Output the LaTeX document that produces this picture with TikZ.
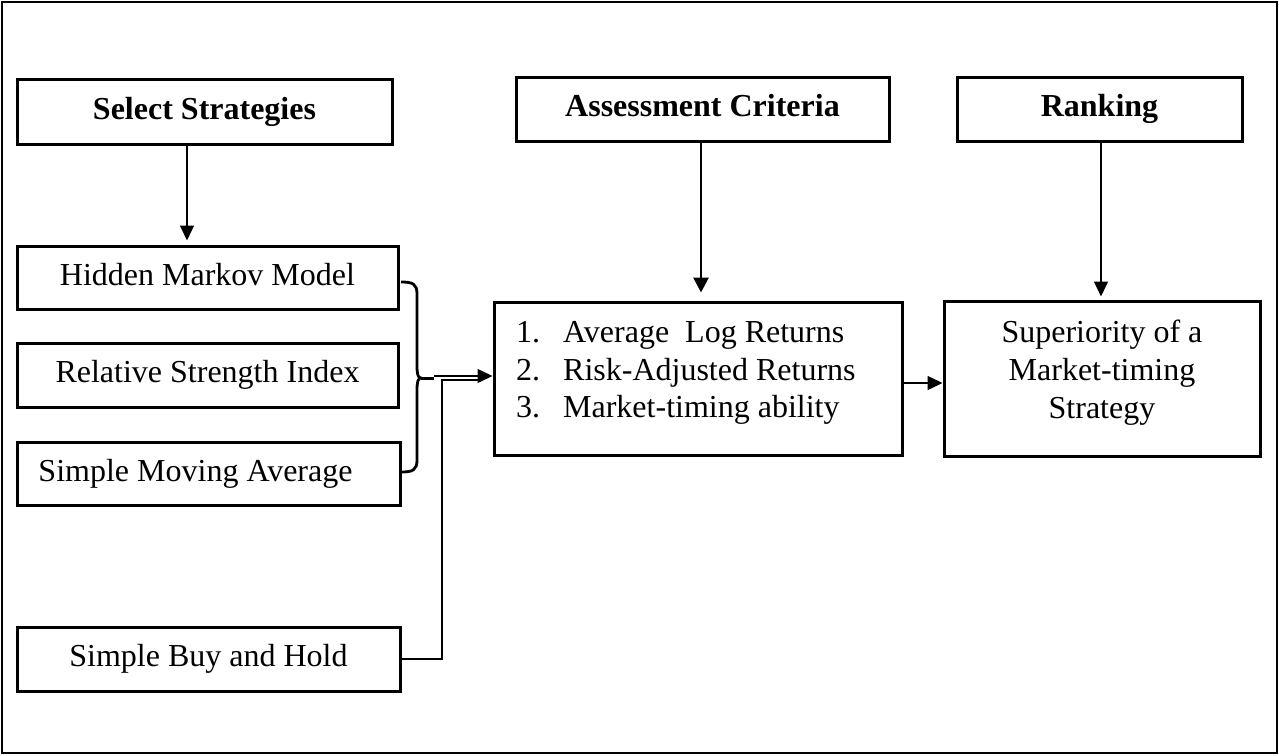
\documentclass[tikz,border=0pt]{standalone}
\usepackage{fontspec}
\setmainfont{Liberation Serif}
\usetikzlibrary{arrows.meta}
\begin{document}
\begin{tikzpicture}[x=1pt,y=-1pt,
  box/.style={draw, line width=3pt, inner sep=0pt, text height=22pt, text depth=7pt, font=\fontsize{32}{38}\selectfont},
  hbox/.style={box, font=\fontsize{32}{38}\selectfont\bfseries},
  txt/.style={inner sep=0pt, font=\fontsize{32}{38}\selectfont},
  conn/.style={line width=1.4pt, -{Triangle[length=15pt,width=14pt]}},
  thickconn/.style={line width=2.8pt, -{Triangle[length=15pt,width=15pt]}},
  plainline/.style={line width=1.4pt},
  bracestyle/.style={line width=2.8pt}
]
\useasboundingbox (0,0) rectangle (1279,755);
\draw[line width=2.5pt] (2,2) rectangle (1277,753);

% headings
\node[hbox, minimum width=375pt, minimum height=65pt] (sel) at (204.5,111.5) {Select Strategies};
\node[hbox, minimum width=373pt, minimum height=64pt] (ass) at (702.5,109) {Assessment Criteria};
\node[hbox, minimum width=285pt, minimum height=64pt] (rank) at (1099.5,109) {Ranking};

% strategies
\node[box, minimum width=381pt, minimum height=63pt] (hmm) at (207.5,277.5) {Hidden Markov Model};
\node[box, minimum width=381pt, minimum height=64pt] (rsi) at (207.5,375) {Relative Strength Index};
\node[box, minimum width=383pt, minimum height=63pt] (sma) at (208.5,473.5) {\hspace*{-26pt}Simple Moving Average};
\node[box, minimum width=383pt, minimum height=64pt] (bh) at (208.5,659) {Simple Buy and Hold};

% criteria and result boxes
\node[box, minimum width=408pt, minimum height=153pt] (crit) at (698,378.5) {};
\node[box, minimum width=316pt, minimum height=155pt] (sup) at (1102,378.5) {};

\node[txt, anchor=base west] (c1) at (516,342) {\makebox[47pt][l]{1.}Average\ \ Log Returns};
\node[txt, anchor=base west] (c2) at (516,380) {\makebox[47pt][l]{2.}Risk-Adjusted Returns};
\node[txt, anchor=base west] (c3) at (516,417) {\makebox[47pt][l]{3.}Market-timing ability};

\node[txt, anchor=base] (s1) at (1102,342) {Superiority of a};
\node[txt, anchor=base] (s2) at (1102,380) {Market-timing};
\node[txt, anchor=base] (s3) at (1102,418) {Strategy};

% helper coordinates
\coordinate (x187) at (187,0);
\coordinate (x701) at (701,0);
\coordinate (x1101) at (1101,0);
\coordinate (y383) at (0,383);

% vertical arrows
\draw[conn, shorten >=4pt] (sel.south -| x187) -- (hmm.north -| x187);
\draw[thickconn, shorten >=8pt] (ass.south -| x701) -- (crit.north -| x701);
\draw[conn, shorten >=3pt] (rank.south -| x1101) -- (sup.north -| x1101);

% criteria to superiority
\draw[conn] (crit.east |- y383) -- (sup.west |- y383);

% brace
\coordinate (bt) at (401,282);
\coordinate (bb) at (401,472);
\coordinate (bm) at (421,378);
\coordinate (btip) at (434,378);
\draw[bracestyle] (bt) .. controls (413,282) and (417,284) .. (417,294) -- (417,366)
  .. controls (417,374) and (418,378) .. (bm)
  .. controls (418,378) and (417,382) .. (417,390) -- (417,460)
  .. controls (417,470) and (413,472) .. (bb);
\draw[line width=3pt] (bm) -- (btip);

% arrow into criteria
\coordinate (joinA) at (434,376);
\draw[conn] (joinA) -- (crit.west |- joinA);

% buy and hold connector
\coordinate (bend) at (442,380);
\coordinate (joinB) at (482,380);
\draw[plainline] (bh.east) -| (bend) -- (joinB);
\end{tikzpicture}
\end{document}
